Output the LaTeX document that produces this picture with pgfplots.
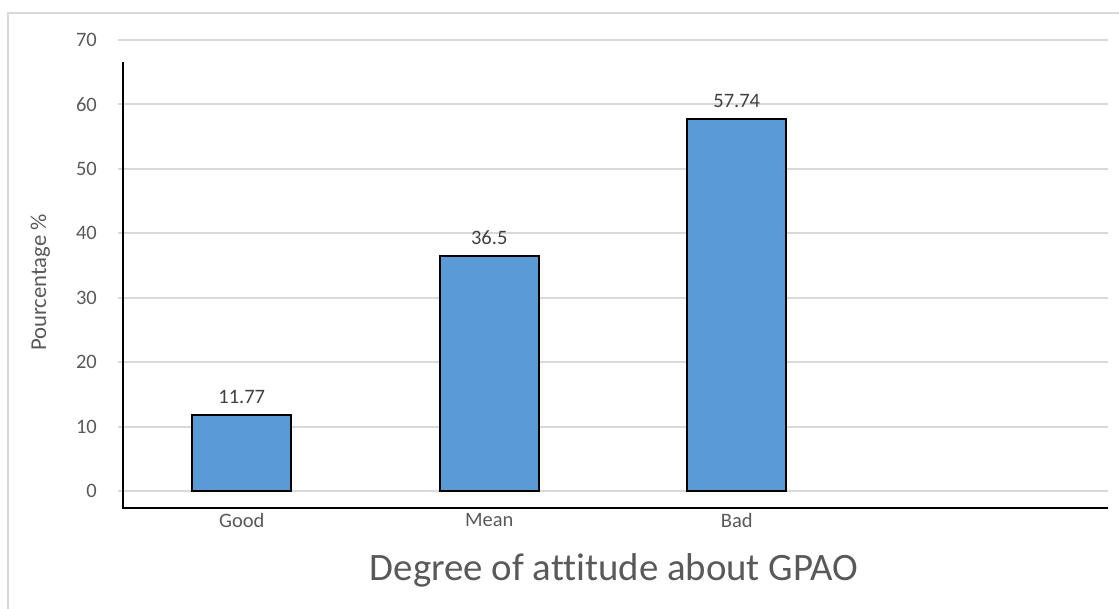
\documentclass[border=0pt]{standalone}
\usepackage{pgfplots}
\pgfplotsset{compat=1.18}
\usepackage{fontspec}
\setmainfont{Carlito}[Ligatures=NoCommon]
\definecolor{barblue}{HTML}{5B9BD5}
\definecolor{gridgray}{HTML}{D9D9D9}
\definecolor{txtgray}{HTML}{595959}
\definecolor{lblgray}{HTML}{404040}
\begin{document}
\begin{tikzpicture}[x=1bp,y=1bp]
\useasboundingbox (0,0) rectangle (1119,609);
\draw[gridgray, line width=2bp] (8,0) -- (8,596) -- (1119,596);
\begin{axis}[
 at={(118bp,101bp)}, anchor=south west, scale only axis,
 width=990bp, height=468bp,
 xmin=-0.5, xmax=3.5, ymin=-2.64, ymax=70,
 axis line style={draw=none},
 ybar, bar width=99bp,
 xtick={0,1,2}, xticklabels={Good,Mean,Bad},
 ytick={0,10,...,70},
 ymajorgrids, grid style={gridgray, line width=2bp},
 major tick length=0pt,
 tick style={draw=none},
 /pgf/number format/assume math mode=true,
 ticklabel style={font=\fontsize{20.5bp}{24bp}\selectfont, text=txtgray, inner sep=0pt},
 yticklabel shift=21bp,
 xticklabel shift=5bp,
 nodes near coords,
 every node near coord/.append style={font=\fontsize{20.5bp}{24bp}\selectfont, text=lblgray, inner sep=0pt, yshift=10bp},
 clip=false,
]
\addplot[fill=barblue, draw=black, line width=2bp] coordinates {(0,11.77) (1,36.5) (2,57.74)};
\draw[black, line width=1.5bp] (axis cs:-0.4798,66.61) -- (axis cs:-0.4798,-2.64) -- (axis cs:3.5,-2.64);
\end{axis}
\node[anchor=base, text=txtgray, font=\fontsize{38.8bp}{44bp}\selectfont, inner sep=0pt] at (614,28) {Degree of attitude about GPAO};
\node[rotate=90, anchor=base, text=txtgray, font=\fontsize{22.7bp}{26bp}\selectfont, inner sep=0pt] at (46,326.5) {Pourcentage \%};
\end{tikzpicture}
\end{document}
